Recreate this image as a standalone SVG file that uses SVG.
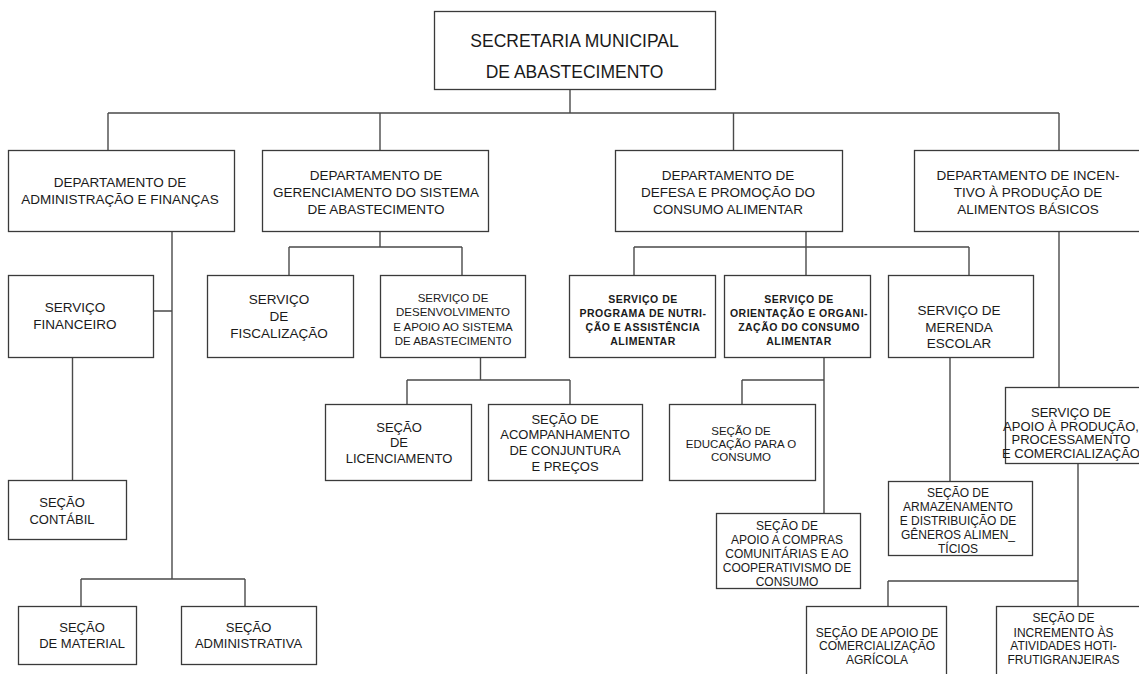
<svg xmlns="http://www.w3.org/2000/svg" width="1139" height="674" viewBox="0 0 1139 674">
<style>
.b{fill:#fff;stroke:#3a3a3a;stroke-width:1.3}
.c{fill:none;stroke:#4a4a4a;stroke-width:1.4}
text{font-family:"Liberation Sans",Arial,sans-serif;fill:#1a1a1a;text-anchor:middle}
.t0{font-size:17.5px}
.t1{font-size:13.5px}
.t2{font-size:13px}
.t3{font-size:12px}
.t4{font-size:11.5px}
.t5{font-size:10.5px;font-weight:bold;letter-spacing:0.5px}
</style>
<rect width="1139" height="674" fill="#fff"/>
<g id="connectors">
<path class="c" d="M570 89.5V113M108 113H1059M108 113V150M380 113V150M733.5 113V150M1059 113V150"/>
<path class="c" d="M172 231V579M153 311H172M81 579H245M81 579V606M245 579V606M72.5 357V480"/>
<path class="c" d="M380 231V247M289 247H462M289 247V275M462 247V275M480.5 357V380M407 380H570M407 380V404M570 380V404"/>
<path class="c" d="M806 232V275M634 247H969M634 247V275M969 247V275M824 358V513M742 380H824M742 380V404M950 358V481"/>
<path class="c" d="M1059 232V387.5M1078 463V606M888 581H1078M888 581V606"/>
</g>
<g id="secretaria">
<rect class="b" x="434.5" y="11.5" width="281" height="78"/>
<text class="t0" x="574.5" y="46.5">SECRETARIA MUNICIPAL</text>
<text class="t0" x="574.5" y="77.5">DE ABASTECIMENTO</text>
</g>
<g id="dep-adm">
<rect class="b" x="8.5" y="150.5" width="226" height="81"/>
<text class="t1" x="120" y="187">DEPARTAMENTO DE</text>
<text class="t1" x="120" y="204">ADMINISTRAÇÃO E FINANÇAS</text>
</g>
<g id="dep-ger">
<rect class="b" x="262.5" y="150.5" width="226" height="81"/>
<text class="t1" x="376" y="180">DEPARTAMENTO DE</text>
<text class="t1" x="376" y="197">GERENCIAMENTO DO SISTEMA</text>
<text class="t1" x="376" y="214">DE ABASTECIMENTO</text>
</g>
<g id="dep-def">
<rect class="b" x="615.5" y="150.5" width="227" height="81"/>
<text class="t1" x="728" y="180">DEPARTAMENTO DE</text>
<text class="t1" x="728" y="197">DEFESA E PROMOÇÃO DO</text>
<text class="t1" x="728" y="214">CONSUMO ALIMENTAR</text>
</g>
<g id="dep-inc">
<rect class="b" x="914.5" y="150.5" width="232" height="81"/>
<text class="t1" x="1028" y="180">DEPARTAMENTO DE INCEN-</text>
<text class="t1" x="1028" y="197">TIVO À PRODUÇÃO DE</text>
<text class="t1" x="1028" y="214">ALIMENTOS BÁSICOS</text>
</g>
<g id="serv-fin">
<rect class="b" x="8.5" y="275.5" width="145" height="82"/>
<text class="t1" x="75" y="312">SERVIÇO</text>
<text class="t1" x="75" y="329">FINANCEIRO</text>
</g>
<g id="serv-fisc">
<rect class="b" x="207.5" y="275.5" width="146" height="82"/>
<text class="t1" x="279" y="304">SERVIÇO</text>
<text class="t1" x="279" y="321">DE</text>
<text class="t1" x="279" y="338">FISCALIZAÇÃO</text>
</g>
<g id="serv-desenv">
<rect class="b" x="380.5" y="275.5" width="145" height="82"/>
<text class="t4" x="453" y="302">SERVIÇO DE</text>
<text class="t4" x="453" y="316">DESENVOLVIMENTO</text>
<text class="t4" x="453" y="330.5">E APOIO AO SISTEMA</text>
<text class="t4" x="453" y="345">DE ABASTECIMENTO</text>
</g>
<g id="serv-nutri">
<rect class="b" x="569.5" y="275.5" width="146" height="82"/>
<text class="t5" x="643" y="302.5">SERVIÇO DE</text>
<text class="t5" x="643" y="317">PROGRAMA DE NUTRI-</text>
<text class="t5" x="643" y="331">ÇÃO E ASSISTÊNCIA</text>
<text class="t5" x="643" y="345">ALIMENTAR</text>
</g>
<g id="serv-orient">
<rect class="b" x="724.5" y="275.5" width="146" height="82"/>
<text class="t5" x="799" y="302.5">SERVIÇO DE</text>
<text class="t5" x="799" y="317">ORIENTAÇÃO E ORGANI-</text>
<text class="t5" x="799" y="331">ZAÇÃO DO CONSUMO</text>
<text class="t5" x="799" y="345">ALIMENTAR</text>
</g>
<g id="serv-merenda">
<rect class="b" x="888.5" y="275.5" width="145" height="82"/>
<text class="t1" x="959" y="315">SERVIÇO DE</text>
<text class="t1" x="959" y="331.5">MERENDA</text>
<text class="t1" x="959" y="348">ESCOLAR</text>
</g>
<g id="sec-licenc">
<rect class="b" x="325.5" y="404.5" width="146" height="76"/>
<text class="t2" x="399" y="432">SEÇÃO</text>
<text class="t2" x="399" y="447">DE</text>
<text class="t2" x="399" y="463">LICENCIAMENTO</text>
</g>
<g id="sec-acomp">
<rect class="b" x="488.5" y="404.5" width="154" height="76"/>
<text class="t2" x="565" y="424">SEÇÃO DE</text>
<text class="t2" x="565" y="439">ACOMPANHAMENTO</text>
<text class="t2" x="565" y="455">DE CONJUNTURA</text>
<text class="t2" x="565" y="471">E PREÇOS</text>
</g>
<g id="sec-educ">
<rect class="b" x="669.5" y="404.5" width="146" height="76"/>
<text class="t4" x="741" y="435">SEÇÃO DE</text>
<text class="t4" x="741" y="448">EDUCAÇÃO PARA O</text>
<text class="t4" x="741" y="461">CONSUMO</text>
</g>
<g id="serv-apoio-prod">
<rect class="b" x="1005.5" y="387.5" width="145" height="76"/>
<text class="t2" x="1071" y="417">SERVIÇO DE</text>
<text class="t2" x="1071" y="430.5">APOIO À PRODUÇÃO,</text>
<text class="t2" x="1071" y="444">PROCESSAMENTO</text>
<text class="t2" x="1071" y="457.5">E COMERCIALIZAÇÃO</text>
</g>
<g id="sec-contabil">
<rect class="b" x="8.5" y="480.5" width="118" height="59"/>
<text class="t2" x="62" y="507">SEÇÃO</text>
<text class="t2" x="62" y="524">CONTÁBIL</text>
</g>
<g id="sec-material">
<rect class="b" x="18.5" y="606.5" width="118" height="58"/>
<text class="t2" x="82" y="632">SEÇÃO</text>
<text class="t2" x="82" y="648">DE MATERIAL</text>
</g>
<g id="sec-admin">
<rect class="b" x="181.5" y="606.5" width="135" height="58"/>
<text class="t2" x="248.5" y="632">SEÇÃO</text>
<text class="t2" x="248.5" y="648">ADMINISTRATIVA</text>
</g>
<g id="sec-compras">
<rect class="b" x="716.5" y="513.5" width="144" height="75"/>
<text class="t3" x="787" y="530">SEÇÃO DE</text>
<text class="t3" x="787" y="543.5">APOIO A COMPRAS</text>
<text class="t3" x="787" y="558">COMUNITÁRIAS E AO</text>
<text class="t3" x="787" y="572">COOPERATIVISMO DE</text>
<text class="t3" x="787" y="586">CONSUMO</text>
</g>
<g id="sec-armaz">
<rect class="b" x="888.5" y="481.5" width="144" height="74"/>
<text class="t3" x="958" y="497">SEÇÃO DE</text>
<text class="t3" x="958" y="511">ARMAZENAMENTO</text>
<text class="t3" x="958" y="525">E DISTRIBUIÇÃO DE</text>
<text class="t3" x="958" y="539">GÊNEROS ALIMEN_</text>
<text class="t3" x="958" y="553">TÍCIOS</text>
</g>
<g id="sec-agricola">
<rect class="b" x="806.5" y="606.5" width="140" height="80"/>
<text class="t3" x="877" y="637">SEÇÃO DE APOIO DE</text>
<text class="t3" x="877" y="650">COMERCIALIZAÇÃO</text>
<text class="t3" x="877" y="664">AGRÍCOLA</text>
</g>
<g id="sec-horti">
<rect class="b" x="996.5" y="606.5" width="150" height="80"/>
<text class="t3" x="1063.5" y="622">SEÇÃO DE</text>
<text class="t3" x="1063.5" y="637">INCREMENTO ÀS</text>
<text class="t3" x="1063.5" y="650">ATIVIDADES HOTI-</text>
<text class="t3" x="1063.5" y="664">FRUTIGRANJEIRAS</text>
</g>
</svg>
